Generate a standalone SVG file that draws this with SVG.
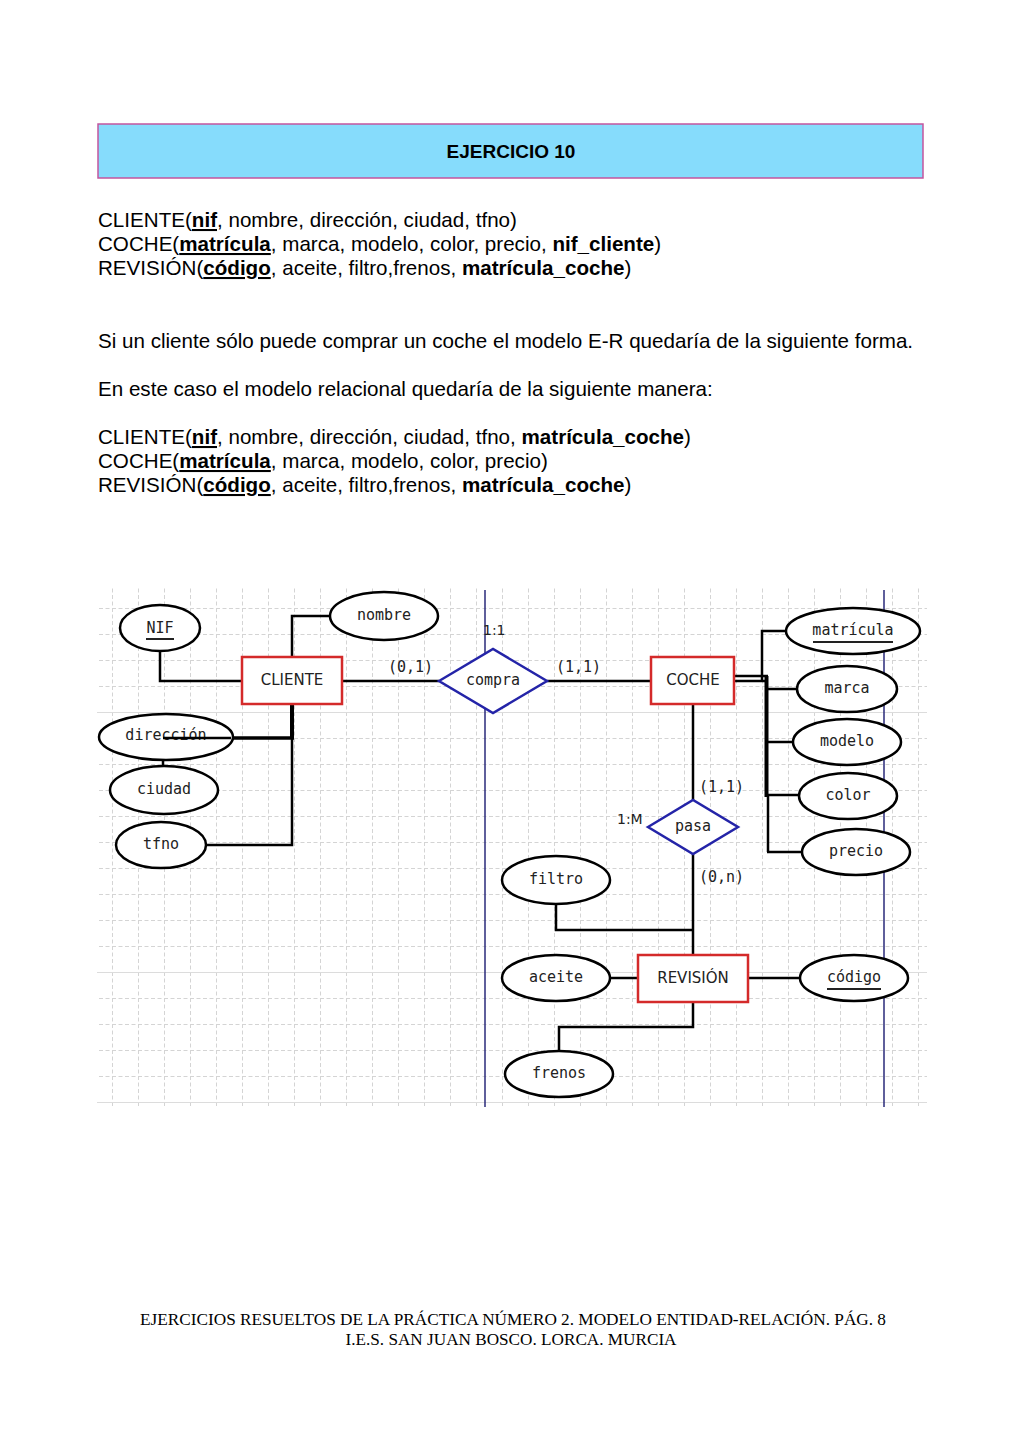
<svg xmlns="http://www.w3.org/2000/svg" width="1024" height="1449" viewBox="0 0 1024 1449">
<style>
.body{font-family:"Liberation Sans",Arial,sans-serif;font-size:20.6px;fill:#000}
.b{font-weight:bold}
.u{font-weight:bold;text-decoration:underline}
.foot{font-family:"Liberation Serif","Times New Roman",serif;font-size:17px;fill:#000}
.lbl{font-family:"DejaVu Sans Mono",monospace;font-size:15px;fill:#222;text-anchor:middle}
.card{font-family:"DejaVu Sans Mono",monospace;font-size:15px;fill:#222}
.ent{font-family:"DejaVu Sans",sans-serif;font-size:15px;fill:#222;text-anchor:middle}
.att{fill:#fff;stroke:#000;stroke-width:2.5}
.rect{fill:#fff;stroke:#d42a2a;stroke-width:2.5}
.rel{fill:#fff;stroke:#2424a8;stroke-width:2.5}
.c{fill:none;stroke:#000;stroke-width:2.5}
.ul{stroke:#222;stroke-width:2}
</style>
<defs>
<pattern id="grid" patternUnits="userSpaceOnUse" x="112" y="608" width="26" height="26">
<line x1="0.5" y1="0" x2="0.5" y2="26" stroke="#d4d4d4" stroke-width="1" stroke-dasharray="4 2.5"/>
<line x1="0" y1="0.5" x2="26" y2="0.5" stroke="#d4d4d4" stroke-width="1" stroke-dasharray="4 2.5"/>
</pattern>
</defs>
<rect width="1024" height="1449" fill="#fff"/>

<g id="header">
<rect x="98" y="124" width="825" height="54" fill="#86dcfc" stroke="#c4559e" stroke-width="1.5"/>
<text x="511" y="158" font-family="Liberation Sans,Arial,sans-serif" font-size="19" font-weight="bold" text-anchor="middle">EJERCICIO 10</text>
</g>

<g id="text">
<text class="body" x="98" y="227">CLIENTE(<tspan class="u">nif</tspan>, nombre, dirección, ciudad, tfno)</text>
<text class="body" x="98" y="251">COCHE(<tspan class="u">matrícula</tspan>, marca, modelo, color, precio, <tspan class="b">nif_cliente</tspan>)</text>
<text class="body" x="98" y="275">REVISIÓN(<tspan class="u">código</tspan>, aceite, filtro,frenos, <tspan class="b">matrícula_coche</tspan>)</text>
<text class="body" x="98" y="348">Si un cliente sólo puede comprar un coche el modelo E-R quedaría de la siguiente forma.</text>
<text class="body" x="98" y="396">En este caso el modelo relacional quedaría de la siguiente manera:</text>
<text class="body" x="98" y="444">CLIENTE(<tspan class="u">nif</tspan>, nombre, dirección, ciudad, tfno, <tspan class="b">matrícula_coche</tspan>)</text>
<text class="body" x="98" y="468">COCHE(<tspan class="u">matrícula</tspan>, marca, modelo, color, precio)</text>
<text class="body" x="98" y="492">REVISIÓN(<tspan class="u">código</tspan>, aceite, filtro,frenos, <tspan class="b">matrícula_coche</tspan>)</text>
</g>

<g id="canvas">
<rect x="97" y="588" width="830" height="519" fill="url(#grid)"/>
<line x1="97" y1="712.5" x2="927" y2="712.5" stroke="#dcdcdc" stroke-width="1.2"/>
<line x1="97" y1="972.5" x2="927" y2="972.5" stroke="#dcdcdc" stroke-width="1.2"/>
<line x1="97" y1="1102.5" x2="927" y2="1102.5" stroke="#dcdcdc" stroke-width="1.2"/>
<line x1="485" y1="590" x2="485" y2="1107" stroke="#2a2a7a" stroke-width="1.5"/>
<line x1="884" y1="590" x2="884" y2="1107" stroke="#2a2a7a" stroke-width="1.5"/>
</g>

<g id="connectors">
<polyline class="c" points="160,651 160,681 242,681"/>
<polyline class="c" points="330,616 292,616 292,657"/>
<line class="c" x1="342" y1="681" x2="439" y2="681"/>
<line class="c" x1="547" y1="681" x2="651" y2="681"/>
<line x1="292" y1="704" x2="292" y2="739" stroke="#000" stroke-width="4"/>
<line x1="231" y1="738" x2="294" y2="738" stroke="#000" stroke-width="3.5"/>
<polyline class="c" points="231,738 163,738 163,766"/>
<polyline class="c" points="292,738 292,845 206,845"/>
<line class="c" x1="734" y1="676" x2="768" y2="676"/>
<line class="c" x1="734" y1="681" x2="766" y2="681"/>
<polyline class="c" points="786,631 762,631 762,681"/>
<line x1="766.5" y1="676" x2="766.5" y2="797" stroke="#000" stroke-width="4"/>
<line class="c" x1="768" y1="795" x2="768" y2="852"/>
<line class="c" x1="766" y1="689" x2="797" y2="689"/>
<line class="c" x1="766" y1="742" x2="793" y2="742"/>
<line class="c" x1="766" y1="795" x2="799" y2="795"/>
<line class="c" x1="767" y1="852" x2="803" y2="852"/>
<line class="c" x1="693" y1="704" x2="693" y2="800"/>
<line class="c" x1="693" y1="854" x2="693" y2="955"/>
<polyline class="c" points="556,904 556,930 693,930"/>
<line class="c" x1="610" y1="978" x2="638" y2="978"/>
<line class="c" x1="748" y1="978" x2="800" y2="978"/>
<polyline class="c" points="693,1002 693,1027 559,1027 559,1051"/>
</g>

<g id="cards">
<text class="card" x="388" y="672">(0,1)</text>
<text class="card" x="556" y="672">(1,1)</text>
<text x="483" y="635" font-family="DejaVu Sans,sans-serif" font-size="14" fill="#222">1:1</text>
<text class="card" x="699" y="792">(1,1)</text>
<text x="617" y="824" font-family="DejaVu Sans,sans-serif" font-size="14" fill="#222">1:M</text>
<text class="card" x="699" y="882">(0,n)</text>
</g>

<g id="NIF"><ellipse class="att" cx="160" cy="628" rx="40" ry="23"/><text class="lbl" x="160" y="633">NIF</text><line class="ul" x1="146" y1="639" x2="174" y2="639"/></g>
<g id="nombre"><ellipse class="att" cx="384" cy="616" rx="54" ry="24"/><text class="lbl" x="384" y="620">nombre</text></g>
<g id="CLIENTE"><rect class="rect" x="242" y="657" width="100" height="47"/><text class="ent" x="292" y="685">CLIENTE</text></g>
<g id="direccion"><ellipse class="att" cx="166" cy="737" rx="67" ry="23"/><text class="lbl" x="166" y="740">dirección</text><line x1="163" y1="738" x2="231" y2="738" stroke="#000" stroke-width="2.5"/></g>
<g id="ciudad"><ellipse class="att" cx="164" cy="790" rx="54" ry="24"/><text class="lbl" x="164" y="794">ciudad</text></g>
<g id="tfno"><ellipse class="att" cx="161" cy="845" rx="45" ry="23"/><text class="lbl" x="161" y="849">tfno</text></g>
<g id="compra"><polygon class="rel" points="439,681 493,649 547,681 493,713"/><text class="lbl" x="493" y="685">compra</text></g>
<g id="COCHE"><rect class="rect" x="651" y="657" width="83" height="47"/><text class="ent" x="693" y="685">COCHE</text></g>
<g id="matricula"><ellipse class="att" cx="853" cy="631" rx="67" ry="23"/><text class="lbl" x="853" y="635">matrícula</text><line class="ul" x1="813" y1="642" x2="893" y2="642"/></g>
<g id="marca"><ellipse class="att" cx="847" cy="689" rx="50" ry="23"/><text class="lbl" x="847" y="693">marca</text></g>
<g id="modelo"><ellipse class="att" cx="847" cy="742" rx="54" ry="23"/><text class="lbl" x="847" y="746">modelo</text></g>
<g id="color"><ellipse class="att" cx="848" cy="796" rx="49" ry="23"/><text class="lbl" x="848" y="800">color</text></g>
<g id="precio"><ellipse class="att" cx="856" cy="852" rx="54" ry="23"/><text class="lbl" x="856" y="856">precio</text></g>
<g id="pasa"><polygon class="rel" points="648,827 693,800 738,827 693,854"/><text class="lbl" x="693" y="831">pasa</text></g>
<g id="filtro"><ellipse class="att" cx="556" cy="880" rx="54" ry="24"/><text class="lbl" x="556" y="884">filtro</text></g>
<g id="REVISION"><rect class="rect" x="638" y="955" width="110" height="47"/><text class="ent" x="693" y="983">REVISIÓN</text></g>
<g id="aceite"><ellipse class="att" cx="556" cy="978" rx="54" ry="23"/><text class="lbl" x="556" y="982">aceite</text></g>
<g id="codigo"><ellipse class="att" cx="854" cy="978" rx="54" ry="23"/><text class="lbl" x="854" y="982">código</text><line class="ul" x1="827" y1="989" x2="881" y2="989"/></g>
<g id="frenos"><ellipse class="att" cx="559" cy="1074" rx="54" ry="23"/><text class="lbl" x="559" y="1078">frenos</text></g>

<g id="footer">
<text class="foot" x="513" y="1325" text-anchor="middle" textLength="746" lengthAdjust="spacingAndGlyphs">EJERCICIOS RESUELTOS DE LA PRÁCTICA NÚMERO 2. MODELO ENTIDAD-RELACIÓN. PÁG. 8</text>
<text class="foot" x="511" y="1345" text-anchor="middle" textLength="331" lengthAdjust="spacingAndGlyphs">I.E.S. SAN JUAN BOSCO. LORCA. MURCIA</text>
</g>
</svg>
